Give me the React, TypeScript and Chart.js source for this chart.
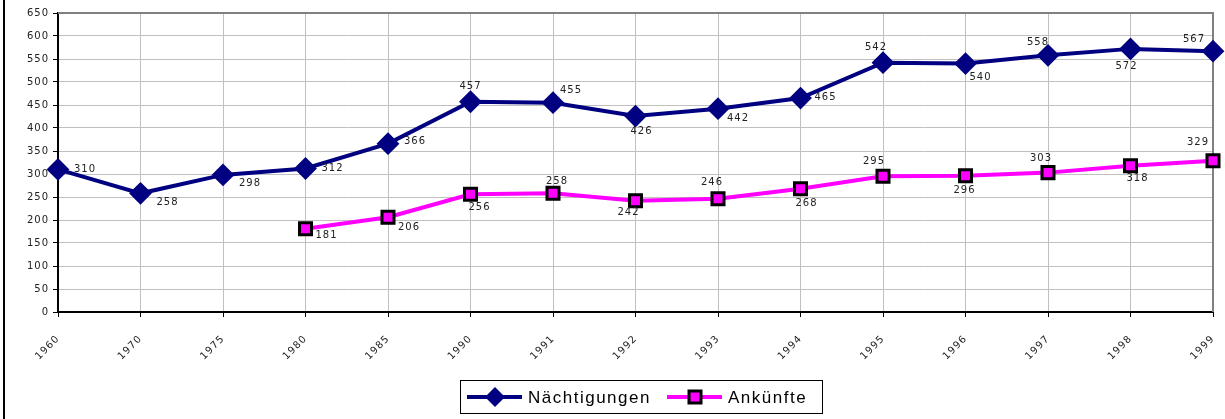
import React, { useEffect, useRef } from 'react';
import { Chart, registerables } from 'chart.js';

Chart.register(...registerables);

const years = ['1960', '1970', '1975', '1980', '1985', '1990', '1991', '1992', '1993', '1994', '1995', '1996', '1997', '1998', '1999'];
const naechtigungen = [310, 258, 298, 312, 366, 457, 455, 426, 442, 465, 542, 540, 558, 572, 567];
const ankuenfte = [null, null, null, 181, 206, 256, 258, 242, 246, 268, 295, 296, 303, 318, 329];
const yMin = 0;
const yMax = 650;
const yStep = 50;

// label offsets (dx, dy) for each data label — styling only
const nOffsets = [[27, 0], [27, 9], [27, 8], [27, 0], [27, -2], [0, -15], [18, -12], [6, 15], [20, 10], [25, -1], [-7, -15], [15, 14], [-10, -13], [-4, 18], [-19, -12]];
const aOffsets = [[0, 0], [0, 0], [0, 0], [21, 7], [21, 10], [9, 13], [4, -12], [-7, 12], [-6, -16], [6, 15], [-9, -15], [-1, 15], [-7, -14], [7, 13], [-15, -18]];

const FONT = '"DejaVu Sans", "Liberation Sans", Arial, sans-serif';
const LFONT = '"Liberation Sans", Arial, sans-serif';

const spacingPlugin = {
  id: 'spacing',
  beforeDraw(chart: any) {
    (chart.ctx as any).letterSpacing = '1px';
  },
};

const labelPlugin = {
  id: 'dataLabels',
  afterDatasetsDraw(chart: any) {
    const ctx = chart.ctx;
    ctx.save();
    (ctx as any).letterSpacing = '1px';
    ctx.font = `10px ${FONT}`;
    ctx.fillStyle = '#222';
    ctx.textAlign = 'center';
    ctx.textBaseline = 'middle';
    const offs = [nOffsets, aOffsets];
    chart.data.datasets.forEach((ds: any, di: number) => {
      const meta = chart.getDatasetMeta(di);
      meta.data.forEach((pt: any, i: number) => {
        const v = ds.data[i];
        if (v == null) return;
        const o = offs[di][i];
        ctx.fillText(String(v), pt.x + o[0], pt.y + o[1]);
      });
    });
    ctx.restore();
  },
};

const framePlugin = {
  id: 'frame',
  beforeDatasetsDraw(chart: any) {
    const { ctx, chartArea } = chart;
    ctx.save();
    ctx.strokeStyle = '#808080';
    ctx.lineWidth = 2;
    ctx.beginPath();
    ctx.moveTo(chartArea.left, chartArea.top);
    ctx.lineTo(chartArea.right, chartArea.top);
    ctx.lineTo(chartArea.right, chartArea.bottom);
    ctx.stroke();
    ctx.restore();
  },
  afterDraw(chart: any) {
    const { ctx } = chart;
    ctx.save();
    ctx.fillStyle = '#000';
    ctx.fillRect(3, 0, 2, chart.height);
    const bx = 460.5, by = 380.5, bw = 362, bh = 33;
    ctx.fillStyle = '#fff';
    ctx.fillRect(bx, by, bw, bh);
    ctx.strokeStyle = '#000';
    ctx.lineWidth = 1;
    ctx.strokeRect(bx, by, bw, bh);
    const cy = by + bh / 2;
    const items = chart.data.datasets;
    const starts = [467, 667];
    items.forEach((ds: any, i: number) => {
      const x0 = starts[i];
      ctx.strokeStyle = ds.borderColor;
      ctx.lineWidth = 4;
      ctx.beginPath();
      ctx.moveTo(x0, cy);
      ctx.lineTo(x0 + 55, cy);
      ctx.stroke();
      const mx = x0 + 28;
      if (i === 0) {
        ctx.fillStyle = ds.pointBackgroundColor;
        ctx.beginPath();
        ctx.moveTo(mx - 10, cy);
        ctx.lineTo(mx, cy - 10);
        ctx.lineTo(mx + 10, cy);
        ctx.lineTo(mx, cy + 10);
        ctx.closePath();
        ctx.fill();
      } else {
        ctx.fillStyle = ds.pointBackgroundColor;
        ctx.fillRect(mx - 6, cy - 6, 12, 12);
        ctx.strokeStyle = '#000';
        ctx.lineWidth = 3;
        ctx.strokeRect(mx - 6, cy - 6, 12, 12);
      }
      ctx.fillStyle = '#000';
      ctx.font = `17px ${LFONT}`;
      ctx.textAlign = 'left';
      ctx.textBaseline = 'middle';
      (ctx as any).letterSpacing = '1.5px';
      ctx.fillText(ds.label, x0 + 61, cy + 1);
    });
    ctx.restore();
  },
};

export default function App() {
  const ref = useRef<HTMLCanvasElement>(null);
  useEffect(() => {
    document.body.style.margin = '0';
    const canvas = ref.current!;
    const chart = new Chart(canvas, {
      type: 'line',
      data: {
        labels: years,
        datasets: [
          {
            label: 'Nächtigungen',
            data: naechtigungen,
            borderColor: '#000080',
            backgroundColor: '#000080',
            pointBackgroundColor: '#000080',
            pointBorderColor: '#000080',
            borderWidth: 4,
            pointStyle: 'rectRot',
            pointRadius: 10,
            pointBorderWidth: 2,
            pointHoverRadius: 10,
            tension: 0,
            clip: false as any,
          },
          {
            label: 'Ankünfte',
            data: ankuenfte,
            borderColor: '#FF00FF',
            backgroundColor: '#FF00FF',
            pointBackgroundColor: '#FF00FF',
            pointBorderColor: '#000000',
            borderWidth: 4,
            pointStyle: 'rect',
            pointRadius: 8.5,
            pointBorderWidth: 3,
            pointHoverRadius: 8.5,
            tension: 0,
            spanGaps: false,
            clip: false as any,
          },
        ],
      },
      options: {
        responsive: false,
        animation: false,
        devicePixelRatio: 1,
        layout: { padding: { top: 13, right: 9, left: 0, bottom: 0 } },
        plugins: {
          legend: { display: false },
          tooltip: { enabled: false },
          title: { display: false },
        },
        scales: {
          x: {
            offset: false,
            grid: {
              color: '#c0c0c0',
              lineWidth: 1,
              drawTicks: true,
              tickLength: 5,
              tickColor: '#000',
              tickWidth: 1,
            },
            border: { color: '#000', width: 2 },
            ticks: {
              color: '#222',
              font: { family: FONT, size: 10 },
              minRotation: 45,
              maxRotation: 45,
              autoSkip: false,
              padding: 16,
            },
            afterFit(scale: any) {
              scale.height = 107;
              scale.paddingRight = 0;
              scale.paddingLeft = 0;
            },
          },
          y: {
            min: yMin,
            max: yMax,
            grid: {
              color: '#c0c0c0',
              lineWidth: 1,
              drawTicks: true,
              tickLength: 5,
              tickColor: '#000',
              tickWidth: 1,
            },
            border: { color: '#000', width: 2 },
            ticks: {
              stepSize: yStep,
              color: '#222',
              font: { family: FONT, size: 10 },
              padding: 4,
            },
            afterFit(scale: any) {
              scale.width = 58;
            },
          },
        },
      },
      plugins: [spacingPlugin, framePlugin, labelPlugin],
    });
    return () => chart.destroy();
  }, []);
  return (
    <div style={{ width: 1225, height: 419, position: 'relative' }}>
      <canvas ref={ref} width={1225} height={419} />
    </div>
  );
}
